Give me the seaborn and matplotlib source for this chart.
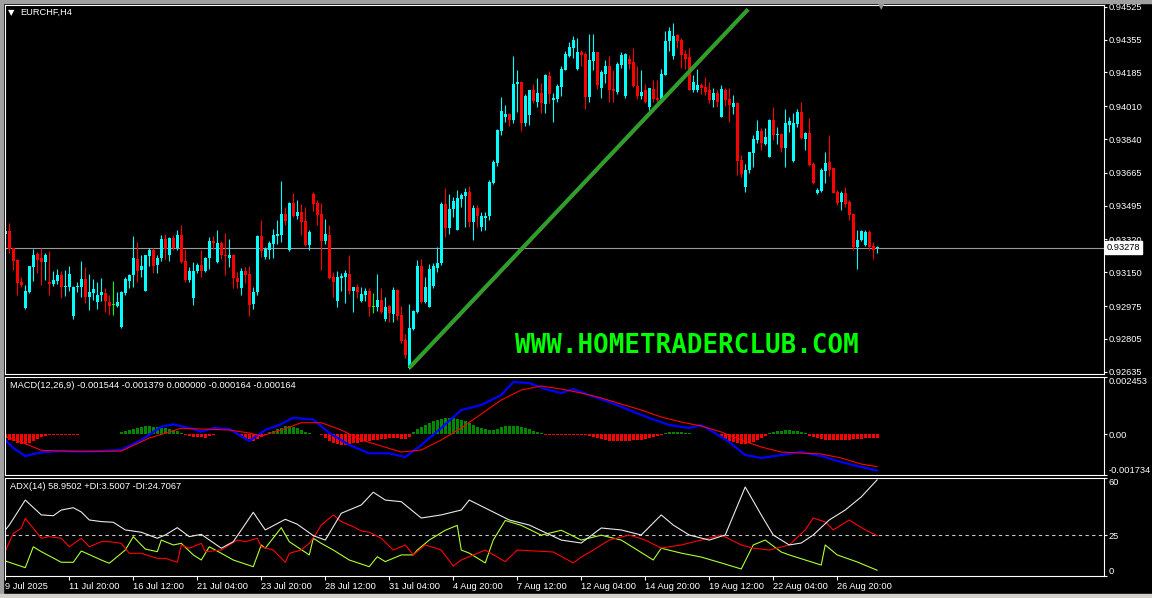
import numpy as np
import matplotlib
matplotlib.use("Agg")
import matplotlib.pyplot as plt
import matplotlib.transforms as mtransforms
from matplotlib.patches import Rectangle
import seaborn as sns

# ---------------- data ----------------
symbol_title = "EURCHF,H4"
macd_title = "MACD(12,26,9) -0.001544 -0.001379 0.000000 -0.000164 -0.000164"
adx_title = "ADX(14) 58.9502 +DI:3.5007 -DI:24.7067"
watermark = "WWW.HOMETRADERCLUB.COM"

opens = [0.93350, 0.93362, 0.93275, 0.93216, 0.93097, 0.92965, 0.93046, 0.93176, 0.93244, 0.93223,
         0.93201, 0.93097, 0.93090, 0.93107, 0.93138, 0.93072, 0.93076, 0.92925, 0.93072, 0.93076,
         0.93117, 0.93020, 0.93041, 0.92994, 0.93032, 0.93045, 0.92998, 0.92983, 0.92977, 0.92864,
         0.93045, 0.93107, 0.93135, 0.93221, 0.93164, 0.93055, 0.93232, 0.93263, 0.93190, 0.93223,
         0.93320, 0.93237, 0.93329, 0.93275, 0.93341, 0.93206, 0.93112, 0.93019, 0.93156, 0.93190,
         0.93159, 0.93225, 0.93312, 0.93202, 0.93299, 0.93242, 0.93225, 0.93242, 0.93119, 0.93067,
         0.93159, 0.93142, 0.92986, 0.93046, 0.93336, 0.93228, 0.93263, 0.93294, 0.93338, 0.93341,
         0.93450, 0.93263, 0.93509, 0.93440, 0.93462, 0.93414, 0.93289, 0.93554, 0.93509, 0.93450,
         0.93312, 0.93341, 0.93124, 0.93003, 0.93119, 0.93124, 0.93142, 0.93052, 0.93072, 0.93000,
         0.93034, 0.93055, 0.92970, 0.92968, 0.93008, 0.92908, 0.92977, 0.92934, 0.93060, 0.92930,
         0.92800, 0.92656, 0.92856, 0.92942, 0.93185, 0.92994, 0.92972, 0.93080, 0.93170, 0.93200,
         0.93502, 0.93381, 0.93480, 0.93370, 0.93532, 0.93544, 0.93565, 0.93410, 0.93483, 0.93384,
         0.93433, 0.93440, 0.93610, 0.93714, 0.93884, 0.93956, 0.93970, 0.93939, 0.94126, 0.94138,
         0.93925, 0.93965, 0.94092, 0.94034, 0.94078, 0.94022, 0.94168, 0.94043, 0.94047, 0.94112,
         0.94199, 0.94272, 0.94312, 0.94204, 0.94293, 0.94282, 0.94057, 0.94242, 0.94289, 0.94104,
         0.94178, 0.94220, 0.94100, 0.94086, 0.94225, 0.94064, 0.94254, 0.94237, 0.94116, 0.94064,
         0.94092, 0.94005, 0.94098, 0.94052, 0.94046, 0.94173, 0.94346, 0.94268, 0.94378, 0.94355,
         0.94282, 0.94265, 0.94095, 0.94092, 0.94121, 0.94109, 0.94095, 0.94043, 0.94081, 0.93956,
         0.94095, 0.94048, 0.94005, 0.94029, 0.93731, 0.93592, 0.93679, 0.93769, 0.93835, 0.93882,
         0.93814, 0.93748, 0.93939, 0.93861, 0.93866, 0.93795, 0.93913, 0.93726, 0.93918, 0.93979,
         0.93840, 0.93870, 0.93710, 0.93561, 0.93572, 0.93676, 0.93719, 0.93688, 0.93566, 0.93514,
         0.93558, 0.93514, 0.93450, 0.93280, 0.93315, 0.93289, 0.93356, 0.93287, 0.93275]

highs = [0.93374, 0.93405, 0.93278, 0.93220, 0.93128, 0.93084, 0.93184, 0.93270, 0.93256, 0.93275,
         0.93249, 0.93260, 0.93159, 0.93169, 0.93154, 0.93164, 0.93180, 0.93078, 0.93102, 0.93206,
         0.93175, 0.93143, 0.93117, 0.93097, 0.93119, 0.93069, 0.93034, 0.93107, 0.93050, 0.93052,
         0.93128, 0.93143, 0.93336, 0.93305, 0.93237, 0.93240, 0.93275, 0.93277, 0.93242, 0.93341,
         0.93346, 0.93332, 0.93344, 0.93370, 0.93393, 0.93268, 0.93175, 0.93201, 0.93197, 0.93263,
         0.93228, 0.93331, 0.93336, 0.93370, 0.93312, 0.93353, 0.93320, 0.93245, 0.93150, 0.93171,
         0.93176, 0.93180, 0.93076, 0.93341, 0.93422, 0.93280, 0.93310, 0.93376, 0.93419, 0.93622,
         0.93488, 0.93514, 0.93558, 0.93526, 0.93506, 0.93488, 0.93367, 0.93565, 0.93523, 0.93509,
         0.93428, 0.93393, 0.93150, 0.93159, 0.93145, 0.93164, 0.93237, 0.93075, 0.93090, 0.93076,
         0.93069, 0.93069, 0.93043, 0.93142, 0.93067, 0.93024, 0.92980, 0.93072, 0.93063, 0.92977,
         0.92830, 0.92986, 0.92954, 0.93211, 0.93220, 0.93124, 0.93194, 0.93200, 0.93280, 0.93514,
         0.93584, 0.93554, 0.93540, 0.93575, 0.93558, 0.93584, 0.93596, 0.93497, 0.93497, 0.93462,
         0.93462, 0.93627, 0.93734, 0.93890, 0.94060, 0.94017, 0.93977, 0.94272, 0.94199, 0.94140,
         0.94074, 0.94095, 0.94126, 0.94156, 0.94130, 0.94176, 0.94190, 0.94078, 0.94126, 0.94220,
         0.94298, 0.94341, 0.94372, 0.94364, 0.94303, 0.94289, 0.94386, 0.94386, 0.94293, 0.94199,
         0.94251, 0.94272, 0.94199, 0.94237, 0.94289, 0.94286, 0.94277, 0.94312, 0.94216, 0.94199,
         0.94126, 0.94107, 0.94147, 0.94147, 0.94202, 0.94398, 0.94421, 0.94442, 0.94386, 0.94364,
         0.94303, 0.94312, 0.94173, 0.94202, 0.94130, 0.94161, 0.94133, 0.94104, 0.94092, 0.94121,
         0.94104, 0.94104, 0.94069, 0.94034, 0.93757, 0.93710, 0.93774, 0.93861, 0.93939, 0.93896,
         0.93896, 0.93942, 0.94005, 0.93904, 0.93870, 0.93994, 0.93956, 0.93977, 0.93994, 0.94034,
         0.93878, 0.93951, 0.93722, 0.93584, 0.93688, 0.93774, 0.93861, 0.93690, 0.93575, 0.93571,
         0.93592, 0.93523, 0.93453, 0.93370, 0.93370, 0.93367, 0.93370, 0.93306, 0.93284]

lows = [0.93306, 0.93249, 0.93162, 0.93032, 0.93072, 0.92960, 0.93042, 0.93103, 0.93145, 0.93084,
        0.93112, 0.93034, 0.93081, 0.93090, 0.93015, 0.93029, 0.93055, 0.92908, 0.93046, 0.93020,
        0.92989, 0.92954, 0.93006, 0.92958, 0.93003, 0.92942, 0.92927, 0.92927, 0.92968, 0.92861,
        0.93034, 0.93069, 0.93072, 0.93098, 0.93124, 0.93052, 0.93185, 0.93145, 0.93145, 0.93209,
        0.93221, 0.93209, 0.93263, 0.93263, 0.93198, 0.93098, 0.93098, 0.92979, 0.93147, 0.93124,
        0.93150, 0.93166, 0.93272, 0.93198, 0.93220, 0.93138, 0.93176, 0.93067, 0.93069, 0.93034,
        0.93095, 0.92925, 0.92958, 0.93032, 0.93228, 0.93220, 0.93220, 0.93225, 0.93294, 0.93306,
        0.93393, 0.93260, 0.93436, 0.93428, 0.93341, 0.93286, 0.93266, 0.93468, 0.93396, 0.93164,
        0.93294, 0.93116, 0.93024, 0.92972, 0.93052, 0.92989, 0.93038, 0.92942, 0.93017, 0.92994,
        0.93000, 0.92925, 0.92937, 0.92951, 0.92940, 0.92899, 0.92890, 0.92890, 0.92903, 0.92781,
        0.92705, 0.92648, 0.92853, 0.92940, 0.92989, 0.92989, 0.92970, 0.93070, 0.93150, 0.93190,
        0.93332, 0.93350, 0.93436, 0.93368, 0.93488, 0.93384, 0.93384, 0.93315, 0.93384, 0.93364,
        0.93370, 0.93419, 0.93608, 0.93700, 0.93861, 0.93930, 0.93908, 0.93922, 0.93982, 0.93884,
        0.93908, 0.93913, 0.94026, 0.94005, 0.93977, 0.93974, 0.94029, 0.93930, 0.94034, 0.94064,
        0.94196, 0.94265, 0.94260, 0.94200, 0.94220, 0.93996, 0.94034, 0.94199, 0.94100, 0.94052,
        0.94130, 0.94034, 0.94034, 0.94074, 0.94208, 0.94052, 0.94202, 0.94112, 0.94046, 0.94045,
        0.94026, 0.93988, 0.94034, 0.94034, 0.94034, 0.94170, 0.94294, 0.94256, 0.94312, 0.94208,
        0.94202, 0.94092, 0.94086, 0.94086, 0.94074, 0.94069, 0.94029, 0.94005, 0.94005, 0.93953,
        0.94012, 0.93930, 0.93970, 0.93653, 0.93644, 0.93566, 0.93662, 0.93693, 0.93821, 0.93783,
        0.93810, 0.93745, 0.93835, 0.93814, 0.93774, 0.93696, 0.93878, 0.93723, 0.93904, 0.93841,
        0.93783, 0.93702, 0.93606, 0.93554, 0.93566, 0.93613, 0.93648, 0.93560, 0.93500, 0.93474,
        0.93488, 0.93419, 0.93263, 0.93168, 0.93312, 0.93284, 0.93263, 0.93220, 0.93249]

closes = [0.93364, 0.93272, 0.93206, 0.93093, 0.93086, 0.93051, 0.93180, 0.93242, 0.93216, 0.93201,
          0.93237, 0.93091, 0.93112, 0.93138, 0.93076, 0.93081, 0.93143, 0.93076, 0.93077, 0.93117,
          0.93020, 0.93050, 0.93065, 0.93034, 0.93046, 0.93000, 0.92977, 0.92983, 0.92998, 0.93050,
          0.93117, 0.93138, 0.93225, 0.93159, 0.93180, 0.93237, 0.93263, 0.93185, 0.93225, 0.93320,
          0.93270, 0.93329, 0.93275, 0.93341, 0.93202, 0.93112, 0.93154, 0.93159, 0.93190, 0.93159,
          0.93225, 0.93312, 0.93299, 0.93299, 0.93237, 0.93232, 0.93242, 0.93119, 0.93098, 0.93159,
          0.93138, 0.92982, 0.93050, 0.93336, 0.93258, 0.93268, 0.93301, 0.93341, 0.93346, 0.93450,
          0.93414, 0.93509, 0.93440, 0.93462, 0.93410, 0.93289, 0.93358, 0.93502, 0.93445, 0.93312,
          0.93346, 0.93119, 0.93098, 0.93124, 0.93131, 0.93145, 0.93052, 0.93072, 0.93046, 0.93038,
          0.93055, 0.92968, 0.92970, 0.93008, 0.92942, 0.92972, 0.92937, 0.93060, 0.92925, 0.92795,
          0.92722, 0.92861, 0.92948, 0.93185, 0.92994, 0.93076, 0.93168, 0.93180, 0.93200, 0.93502,
          0.93381, 0.93480, 0.93518, 0.93535, 0.93549, 0.93566, 0.93410, 0.93483, 0.93440, 0.93443,
          0.93440, 0.93615, 0.93722, 0.93887, 0.93986, 0.93970, 0.93939, 0.94126, 0.94138, 0.93925,
          0.94064, 0.94092, 0.94038, 0.94078, 0.94026, 0.94173, 0.94074, 0.94055, 0.94116, 0.94202,
          0.94282, 0.94317, 0.94355, 0.94291, 0.94277, 0.94060, 0.94248, 0.94293, 0.94121, 0.94185,
          0.94220, 0.94095, 0.94090, 0.94230, 0.94274, 0.94280, 0.94230, 0.94116, 0.94064, 0.94086,
          0.94034, 0.94104, 0.94046, 0.94040, 0.94178, 0.94350, 0.94402, 0.94376, 0.94346, 0.94277,
          0.94254, 0.94095, 0.94133, 0.94121, 0.94104, 0.94086, 0.94040, 0.94081, 0.94034, 0.94100,
          0.94043, 0.94017, 0.94026, 0.93726, 0.93658, 0.93679, 0.93771, 0.93840, 0.93882, 0.93821,
          0.93852, 0.93939, 0.93861, 0.93866, 0.93795, 0.93922, 0.93934, 0.93922, 0.93979, 0.93844,
          0.93870, 0.93705, 0.93610, 0.93578, 0.93679, 0.93714, 0.93679, 0.93563, 0.93509, 0.93558,
          0.93506, 0.93445, 0.93280, 0.93318, 0.93362, 0.93358, 0.93280, 0.93266, 0.93278]

price_ticks = [0.94525, 0.94355, 0.94185, 0.94010, 0.93840, 0.93665,
               0.93495, 0.93320, 0.93150, 0.92975, 0.92805, 0.92635]
price_range = [0.92623, 0.94537]

time_labels = ["9 Jul 2025", "11 Jul 20:00", "16 Jul 12:00", "21 Jul 04:00", "23 Jul 20:00",
               "28 Jul 12:00", "31 Jul 04:00", "4 Aug 20:00", "7 Aug 12:00", "12 Aug 04:00",
               "14 Aug 20:00", "19 Aug 12:00", "22 Aug 04:00", "26 Aug 20:00"]
time_label_bars = [0, 16, 32, 48, 64, 80, 96, 112, 128, 144, 160, 176, 192, 208]

# trend line drawn on the chart (bar index, price)
trend_bars = [101.0, 185.7]
trend_prices = [0.92655, 0.94512]

# MACD (values in millionths)
macd_main_bars = [0, 2, 5, 9, 14, 19, 24, 29, 34, 39, 42, 46, 49, 52, 56, 61, 65, 69, 72, 75,
                  77, 81, 86, 91, 96, 100, 104, 109, 114, 119, 124, 127, 131, 135, 139, 142, 146,
                  151, 156, 161, 166, 171, 174, 177, 181, 185, 189, 194, 199, 204, 209, 214, 218]
macd_main_micro = [-239, -581, -923, -765, -709, -730, -709, -666, -239, 329,
                   431, 273, 115, 273, 231, -282, 188, 444, 713, 658,
                   637, 60, -453, -807, -807, -965, -453, 273, 1042, 1256,
                   1683, 2239, 2196, 1939, 1769, 1939, 1683, 1384, 1042, 701,
                   402, 273, 402, 103, -325, -880, -1008, -880, -752, -923,
                   -1179, -1393, -1544]
macd_signal_bars = [0, 4, 9, 14, 19, 24, 29, 36, 44, 49, 56, 61, 64, 69, 74, 79, 84, 89, 94, 99,
                    104, 109, 114, 119, 124, 129, 134, 139, 144, 149, 154, 159, 164, 169, 174,
                    179, 184, 189, 194, 199, 204, 209, 214, 218]
macd_signal_micro = [-98, -325, -679, -709, -722, -722, -709, -154, 261, 231,
                     188, 60, -68, 188, 500, 500, 188, -239, -496, -752,
                     -666, -239, 273, 871, 1470, 1897, 2068, 1939, 1769, 1556,
                     1299, 1042, 743, 530, 359, 103, -239, -538, -752, -795,
                     -837, -1008, -1264, -1379]
macd_hist_micro = [-171, -256, -299, -384, -427, -427, -384, -299, -214, -128,
                   -85, -43, -43, -43, -43, -43, -43, -43, -43, 21,
                   21, 21, 21, 21, 21, 21, 21, 21, 21, 85,
                   128, 171, 214, 278, 320, 342, 355, 329, 299, 286,
                   256, 226, 171, 128, 43, -43, -85, -107, -128, -128,
                   -150, -85, -43, 21, 21, 21, 21, 21, -43, -107,
                   -150, -214, -278, -214, -128, -43, 85, 150, 214, 278,
                   342, 355, 320, 256, 171, 85, 43, 21, 21, -43,
                   -171, -299, -384, -427, -449, -449, -427, -384, -363, -342,
                   -299, -278, -256, -235, -214, -192, -171, -171, -171, -192,
                   -214, -128, 85, 214, 299, 384, 470, 555, 598, 641,
                   684, 705, 684, 641, 598, 555, 470, 384, 299, 256,
                   214, 171, 171, 214, 299, 342, 342, 363, 342, 299,
                   256, 214, 128, 85, 43, -43, -43, -43, -43, -43,
                   -43, -43, -43, -43, -43, -43, -85, -128, -171, -214,
                   -256, -278, -299, -299, -299, -299, -278, -256, -256, -235,
                   -214, -171, -128, -85, -43, 43, 85, 85, 107, 85,
                   64, 43, 21, 21, 21, 21, 21, 21, -43, -128,
                   -214, -299, -342, -384, -427, -427, -384, -342, -256, -171,
                   -85, 43, 85, 128, 150, 171, 171, 150, 128, 85,
                   43, -85, -128, -171, -214, -235, -256, -256, -256, -256,
                   -256, -235, -214, -214, -192, -171, -171, -171, -164]
macd_range = [-0.001734, 0.002453]

# ADX(14)
adx_bars = [0, 1, 5, 9, 12, 14, 17, 19, 21, 24, 27, 30, 34, 38, 40, 43, 46, 49, 54, 57,
            62, 65, 70, 73, 77, 80, 84, 89, 92, 95, 99, 104, 109, 114, 116, 121, 126, 131, 139,
            144, 149, 154, 159, 164, 167, 171, 176, 180, 185, 189, 192, 196, 199, 202, 206, 210,
            214, 218]
adx_vals = [28.2, 31.2, 46.5, 37.4, 36.9, 40.4, 41.8, 39.2, 34.3, 33.3,
            32.9, 28.2, 26.8, 23.1, 25.1, 29.6, 24.1, 25.5, 17.0, 21.0,
            39.0, 28.2, 34.7, 31.7, 24.7, 22.0, 38.4, 43.5, 51.3, 46.5,
            45.5, 35.5, 37.4, 40.4, 46.5, 40.4, 34.3, 31.2, 22.0, 20.2,
            29.4, 28.2, 25.1, 37.4, 31.2, 25.1, 22.0, 25.1, 54.5, 37.4,
            25.1, 19.0, 20.2, 25.1, 34.3, 40.4, 48.4, 58.95]
mdi_bars = [0, 2, 4, 5, 7, 9, 11, 14, 16, 19, 21, 24, 26, 29, 31, 34, 38, 40, 43, 44,
            46, 49, 50, 54, 56, 58, 60, 63, 64, 67, 70, 71, 74, 76, 78, 79, 82, 84, 87, 89,
            91, 94, 97, 100, 102, 105, 109, 112, 114, 120, 125, 128, 137, 142, 144, 147, 151,
            156, 160, 164, 169, 174, 179, 184, 187, 191, 196, 200, 202, 205, 207, 211, 215, 218]
mdi_vals = [15.3, 26.1, 29.2, 35.3, 29.2, 23.1, 24.1, 23.1, 17.9, 23.1,
            17.9, 21.0, 21.0, 20.0, 13.9, 13.9, 10.8, 10.8, 8.4, 19.0,
            17.0, 20.0, 14.9, 15.9, 19.0, 22.0, 21.0, 23.1, 17.9, 15.9,
            8.4, 13.9, 15.9, 20.0, 27.1, 31.2, 37.4, 33.3, 30.2, 27.6,
            26.8, 23.1, 15.9, 19.0, 12.9, 19.0, 15.9, 6.1, 9.8, 15.9,
            8.8, 15.9, 14.7, 8.0, 11.6, 15.9, 22.0, 25.1, 22.0, 17.1,
            19.0, 22.0, 25.1, 19.0, 17.1, 15.9, 19.0, 28.2, 35.5, 33.1,
            28.2, 34.3, 28.2, 24.7]
pdi_bars = [0, 5, 7, 9, 14, 17, 19, 24, 26, 30, 32, 35, 38, 39, 42, 44, 47, 49, 51, 54,
            57, 62, 64, 65, 69, 71, 76, 77, 79, 82, 86, 91, 93, 95, 99, 102, 103, 106, 110, 113,
            114, 116, 120, 122, 125, 129, 134, 139, 144, 149, 154, 158, 162, 164, 169, 174, 179,
            184, 187, 190, 194, 196, 204, 205, 208, 213, 218]
pdi_vals = [9.2, 5.1, 17.9, 14.9, 8.4, 8.4, 15.3, 9.8, 7.8, 15.9,
            24.1, 16.5, 14.9, 22.0, 19.0, 20.0, 12.9, 9.8, 17.9, 13.9,
            9.8, 5.7, 19.0, 17.0, 29.6, 21.0, 12.9, 23.1, 20.0, 15.9,
            9.8, 5.7, 11.8, 8.8, 12.9, 12.9, 15.9, 22.0, 28.0, 31.0,
            15.9, 14.0, 8.0, 22.0, 34.0, 31.0, 25.0, 28.0, 22.0, 25.0,
            22.0, 15.9, 9.8, 17.0, 14.0, 11.6, 8.0, 4.3, 19.0, 22.0,
            14.7, 12.9, 6.7, 19.0, 12.9, 8.6, 3.5]
adx_level = 25
adx_ticks = [0, 25, 60]

# ---------------- style ----------------
sns.set_style("dark")
plt.rcParams['font.family'] = ['Liberation Sans', 'DejaVu Sans']
plt.rcParams['axes.unicode_minus'] = False

W, H = 1152, 598
fig = plt.figure(figsize=(W / 100, H / 100), dpi=100, facecolor='black')


def rect(l, t, r, b):
    return [l / W, 1 - b / H, (r - l) / W, (b - t) / H]


ax_p = fig.add_axes(rect(4.5, 4.5, 1104, 374))
ax_m = fig.add_axes(rect(4.5, 377, 1104, 475))
ax_a = fig.add_axes(rect(4.5, 478, 1104, 576))
XL = (-0.2, 274.7)
FS = 6.7

for ax in (ax_p, ax_m, ax_a):
    ax.set_facecolor('black')
    ax.grid(False)
    for sp in ax.spines.values():
        sp.set_color('white')
        sp.set_linewidth(0.8)
    ax.yaxis.tick_right()
    ax.tick_params(axis='y', colors='white', labelsize=FS, length=2.5, width=0.8,
                   pad=1.0, direction='out', right=True, left=False)
    ax.tick_params(axis='x', bottom=False, labelbottom=False, top=False)

# ---------------- candles ----------------
o = np.array(opens); h = np.array(highs); l = np.array(lows); c = np.array(closes)
n = len(c)
x = np.arange(n)
cols = np.where(c > o, '#00FFFF', np.where(c < o, '#FF0000', '#00FF00'))
ax_p.vlines(x, l, h, colors=cols, linewidth=0.8)
body_lo = np.minimum(o, c)
body_h = np.maximum(np.abs(c - o), 0.00004)
ax_p.bar(x, body_h, bottom=body_lo, width=0.74, color=cols, linewidth=0)

# current price line and label (label box sits over the axis like in the terminal)
last = closes[-1]
ax_p.axhline(last, color='#9a9a9a', linewidth=0.8, zorder=0.5)
tr = mtransforms.blended_transform_factory(ax_p.transAxes, ax_p.transData)
ax_p.text(1.0 + 3 / 1099, last, f"{last:.5f}", transform=tr, ha='left', va='center',
          color='black', fontsize=FS, zorder=20, clip_on=False,
          bbox=dict(facecolor='white', edgecolor='white', boxstyle='square,pad=0.2'))

# trend line (red companion slightly below, green on top)
off = mtransforms.offset_copy(ax_p.transData, fig=fig, x=1.0, y=-1.0, units='dots')
ax_p.plot(trend_bars, trend_prices, color='#FF0000', linewidth=0.8, transform=off)
ax_p.plot(trend_bars, trend_prices, color='#2ca02c', linewidth=2.9, solid_capstyle='butt')

ax_p.set_ylim(*price_range)
ax_p.set_yticks(price_ticks, [f"{v:.5f}" for v in price_ticks])
ax_p.set_xlim(*XL)

ax_p.text((687 - 4.5) / 1099.5, (374 - 346) / 369.5, watermark, transform=ax_p.transAxes,
          ha='center', va='center', color='#00FF00', fontsize=18.6, fontweight='bold',
          family='DejaVu Sans Mono')

# ---------------- MACD ----------------
hist = np.array(macd_hist_micro) * 1e-6
hcols = np.where(hist >= 0, '#008800', '#FF0000')
ax_m.bar(np.arange(len(hist)), hist, width=0.74, color=hcols, linewidth=0)
sns.lineplot(x=macd_main_bars, y=np.array(macd_main_micro) * 1e-6, ax=ax_m,
             color='#0000FF', linewidth=1.6)
sns.lineplot(x=macd_signal_bars, y=np.array(macd_signal_micro) * 1e-6, ax=ax_m,
             color='#FF0000', linewidth=0.8)
ax_m.set_ylim(*macd_range)
ax_m.set_yticks([macd_range[0], 0.0, macd_range[1]],
                [f"{macd_range[0]:.6f}", "0.00", f"{macd_range[1]:.6f}"])
lbls = ax_m.get_yticklabels()
lbls[0].set_va('bottom'); lbls[-1].set_va('top')
ax_m.set_xlim(*XL)
ax_m.set_xlabel(''); ax_m.set_ylabel('')

# ---------------- ADX ----------------
ax_a.axhline(adx_level, color='#c8c8c8', linewidth=0.8, linestyle=(0, (3, 3)))
sns.lineplot(x=pdi_bars, y=pdi_vals, ax=ax_a, color='#ADFF2F', linewidth=0.8)
sns.lineplot(x=mdi_bars, y=mdi_vals, ax=ax_a, color='#FF0000', linewidth=0.8)
sns.lineplot(x=adx_bars, y=adx_vals, ax=ax_a, color='#E8E8E8', linewidth=0.8)
ax_a.set_ylim(0, 60)
ax_a.set_yticks(adx_ticks, [str(v) for v in adx_ticks])
al = ax_a.get_yticklabels()
al[0].set_va('bottom'); al[-1].set_va('top')
ax_a.set_xlim(*XL)
ax_a.set_xlabel(''); ax_a.set_ylabel('')
ax_a.set_xticks(time_label_bars, time_labels)
ax_a.tick_params(axis='x', bottom=True, labelbottom=True, colors='white', labelsize=FS,
                 length=3, width=0.8, pad=1.5)
for t in ax_a.get_xticklabels():
    t.set_ha('left')

# ---------------- texts ----------------
fig.text(7.5 / W, 1 - 12.5 / H, "\u25BC", color='white', fontsize=6, va='center', ha='left',
         family='DejaVu Sans')
fig.text(20.5 / W, 1 - 12.5 / H, symbol_title, color='white', fontsize=FS, va='center', ha='left')
fig.text(878 / W, 1 - 7 / H, "\u25BC", color='#909090', fontsize=6, va='center', ha='left',
         family='DejaVu Sans')
fig.text(9.5 / W, 1 - 386 / H, macd_title, color='white', fontsize=FS, va='center', ha='left')
fig.text(9.5 / W, 1 - 486.5 / H, adx_title, color='white', fontsize=FS, va='center', ha='left')

# window frame
fig.patches.append(Rectangle((0, 1 - 2.5 / H), 1, 2.5 / H, transform=fig.transFigure,
                             color='#a0a0a0', zorder=10))
fig.patches.append(Rectangle((0, 0), 2.5 / W, 1, transform=fig.transFigure,
                             color='#a0a0a0', zorder=10))
fig.patches.append(Rectangle((0, 0), 1, 4.5 / H, transform=fig.transFigure,
                             color='#d4d0c8', zorder=10))

fig.savefig('out.png', dpi=100, facecolor='black')
